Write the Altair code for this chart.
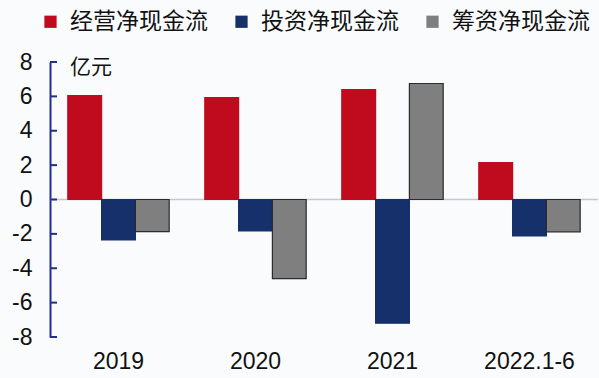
import altair as alt
import pandas as pd

categories = ["2019", "2020", "2021", "2022.1-6"]
series_names = ["经营净现金流", "投资净现金流", "筹资净现金流"]
operating = [6.05, 5.93, 6.4, 2.14]
investing = [-2.35, -1.83, -7.2, -2.12]
financing = [-1.87, -4.6, 6.75, -1.88]
colors = ["#C00A1E", "#15306B", "#7F7F7F"]
strokes = ["#C00A1E", "#15306B", "#2B2B2B"]
y_ticks = [-8, -6, -4, -2, 0, 2, 4, 6, 8]

rows = []
for name, vals in zip(series_names, [operating, investing, financing]):
    for c, v in zip(categories, vals):
        rows.append({"category": c, "series": name, "value": v})
df = pd.DataFrame(rows)

W, H = 548, 275
yscale = alt.Scale(domain=[-8, 8], nice=False, zero=False)
yaxis = alt.Axis(values=y_ticks, grid=False, ticks=False, domainColor="#22308A",
                 domainWidth=2, labelPadding=18, labelFontSize=23, labelOverlap=False,
                 labelExpr="toString(datum.value)",
                 labelFont="Liberation Sans", labelColor="#111111")

zero = alt.Chart(pd.DataFrame({"v": [0]})).mark_rule(
    color="#C8C8CC", strokeWidth=1.5
).encode(y=alt.Y("v:Q", scale=yscale, title=None, axis=yaxis))

bars = alt.Chart(df).mark_bar(strokeWidth=1.2).encode(
    x=alt.X("category:N", sort=categories, title=None,
            scale=alt.Scale(paddingInner=0.26, paddingOuter=0.13),
            axis=alt.Axis(labelAngle=0, domain=False, ticks=False, labelPadding=13,
                          labelFontSize=23, labelFont="Liberation Sans", labelColor="#111111")),
    xOffset=alt.XOffset("series:N", sort=series_names),
    y=alt.Y("value:Q", scale=yscale, title=None, axis=yaxis),
    color=alt.Color("series:N", sort=series_names,
                    scale=alt.Scale(domain=series_names, range=colors),
                    legend=alt.Legend(orient="none", legendX=-11, legendY=-52, direction="horizontal",
                                      title=None, symbolType="square", symbolSize=150,
                                      symbolStrokeWidth=0, labelFontSize=23,
                                      labelFont="Noto Sans CJK SC", labelColor="#111111",
                                      labelOffset=8, columnPadding=22, labelLimit=300)),
    stroke=alt.Stroke("series:N", sort=series_names,
                      scale=alt.Scale(domain=series_names, range=strokes), legend=None),
)

ticks = alt.Chart(pd.DataFrame({"v": y_ticks})).mark_rule(
    color="#22308A", strokeWidth=2
).encode(x=alt.value(0), x2=alt.value(7), y=alt.Y("v:Q", scale=yscale, title=None, axis=yaxis))

unit = alt.Chart(pd.DataFrame({"t": ["亿元"]})).mark_text(
    align="left", baseline="middle", fontSize=21, font="Noto Sans CJK SC", color="#111111"
).encode(x=alt.value(20), y=alt.value(6), text="t:N")

chart = alt.layer(zero, bars, ticks, unit).properties(
    width=W, height=H,
    autosize=alt.AutoSizeParams(type="none"),
    padding={"left": 50, "top": 62, "right": 1, "bottom": 41},
    background="#FAFBFD",
).configure_view(stroke=None).configure_axisY(labelOverlap=False)

chart.save("out.html", embed_options={"renderer": "svg", "actions": False})
